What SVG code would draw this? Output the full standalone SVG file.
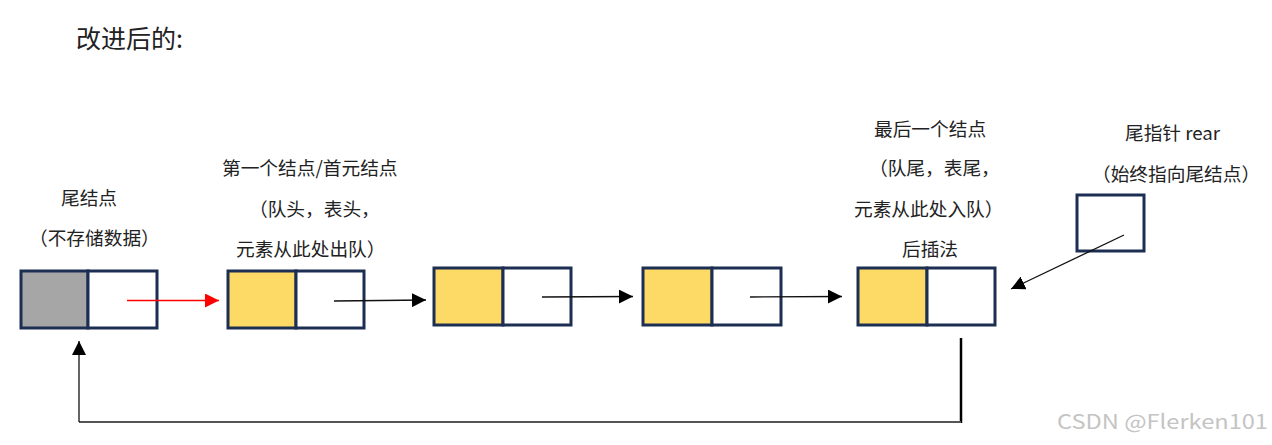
<svg xmlns="http://www.w3.org/2000/svg" width="1272" height="445" viewBox="0 0 1272 445">
<style>
text{font-family:"Noto Sans CJK SC","Liberation Sans",sans-serif;fill:#222;}
.lbl{font-size:18.7px;}
.box{stroke:#1c2f52;stroke-width:3;}
.data{fill:#fdd966;}
.head{fill:#a6a6a6;}
.ptr{fill:#ffffff;}
.ln{stroke:#111;stroke-width:1.3;fill:none;}
</style>
<defs>
<marker id="ah" viewBox="0 0 10 10" refX="10" refY="5" markerWidth="14" markerHeight="14" markerUnits="userSpaceOnUse" orient="auto"><path d="M0,0 L10,5 L0,10 z" fill="#000"/></marker>
<marker id="ahr" viewBox="0 0 10 10" refX="10" refY="5" markerWidth="14" markerHeight="14" markerUnits="userSpaceOnUse" orient="auto"><path d="M0,0 L10,5 L0,10 z" fill="#ff0000"/></marker>
</defs>
<rect width="1272" height="445" fill="#fff"/>
<text x="76" y="48" style="font-size:25px">改进后的:</text>

<g id="n0">
<rect class="box head" x="21" y="271" width="67" height="57"/>
<rect class="box ptr" x="88" y="271" width="69" height="57"/>
<text class="lbl" x="61" y="205">尾结点</text>
<text class="lbl" x="29" y="245">（不存储数据）</text>
</g>
<g id="n1">
<rect class="box data" x="228" y="271" width="68" height="57"/>
<rect class="box ptr" x="296" y="271" width="68" height="57"/>
<text class="lbl" x="222" y="175">第一个结点/首元结点</text>
<text class="lbl" x="249" y="216">（队头，表头，</text>
<text class="lbl" x="236" y="256">元素从此处出队）</text>
</g>
<g id="n2">
<rect class="box data" x="434" y="268" width="69" height="57"/>
<rect class="box ptr" x="503" y="268" width="68" height="57"/>
</g>
<g id="n3">
<rect class="box data" x="643" y="268" width="69" height="57"/>
<rect class="box ptr" x="712" y="268" width="69" height="57"/>
</g>
<g id="n4">
<rect class="box data" x="858" y="268" width="69" height="57"/>
<rect class="box ptr" x="927" y="268" width="68" height="57"/>
<text class="lbl" x="874" y="136">最后一个结点</text>
<text class="lbl" x="869" y="175">（队尾，表尾，</text>
<text class="lbl" x="854" y="216">元素从此处入队）</text>
<text class="lbl" x="902" y="256">后插法</text>
</g>
<g id="rear">
<rect class="box ptr" x="1077" y="195" width="67" height="56"/>
<text class="lbl" x="1125" y="140">尾指针 rear</text>
<text class="lbl" x="1092" y="181">（始终指向尾结点）</text>
</g>

<g id="connectors">
<line x1="127" y1="300.5" x2="219" y2="300.5" stroke="#ff0000" stroke-width="1.3" marker-end="url(#ahr)"/>
<line class="ln" x1="334" y1="301" x2="426" y2="300" marker-end="url(#ah)"/>
<line class="ln" x1="542" y1="297" x2="633" y2="296.5" marker-end="url(#ah)"/>
<line class="ln" x1="750" y1="297" x2="842" y2="296.5" marker-end="url(#ah)"/>
<line class="ln" x1="1124" y1="235" x2="1011" y2="289" marker-end="url(#ah)"/>
<line x1="961" y1="338" x2="961" y2="423" stroke="#000" stroke-width="2.5"/>
<line x1="961" y1="422" x2="79" y2="422" stroke="#555" stroke-width="2"/>
<line class="ln" x1="79" y1="422" x2="79" y2="341" marker-end="url(#ah)"/>
</g>
<text x="1057" y="429" textLength="211" lengthAdjust="spacingAndGlyphs" style="font-size:20px;fill:#c4c4c4" font-family="Liberation Sans">CSDN @Flerken101</text>
</svg>
